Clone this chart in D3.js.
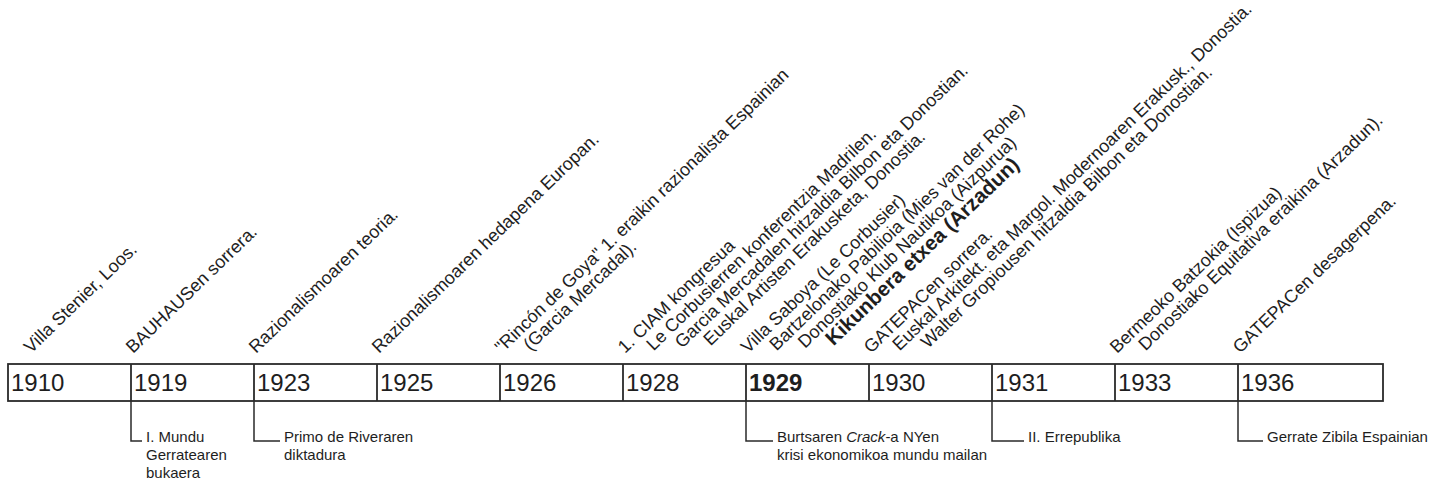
<!DOCTYPE html>
<html>
<head>
<meta charset="utf-8">
<script src="https://cdn.jsdelivr.net/npm/d3@7"></script>
<style>
  body { margin: 0; background: #fff; }
  text { font-family: "Liberation Sans", Arial, sans-serif; fill: #1e1e1e; }
</style>
</head>
<body>
<script>
var width = 1442,
  height = 481;

// Data
var years = ["1910", "1919", "1923", "1925", "1926", "1928", "1929", "1930", "1931", "1933", "1936"];
var boldYear = "1929";

// events above the timeline, one entry per line of text
var eventYears = ["1910", "1919", "1923", "1925",
  "1926", "1926",
  "1928", "1928", "1928", "1928",
  "1929", "1929", "1929", "1929",
  "1930", "1930", "1930",
  "1933", "1933",
  "1936"];
var eventTexts = ["Villa Stenier, Loos.", "BAUHAUSen sorrera.", "Razionalismoaren teoria.", "Razionalismoaren hedapena Europan.",
  "\"Rincón de Goya\" 1. eraikin razionalista Espainian", "(Garcia Mercadal).",
  "1. CIAM kongresua", "Le Corbusierren konferentzia Madrilen.", "Garcia Mercadalen hitzaldia Bilbon eta Donostian.", "Euskal Artisten Erakusketa, Donostia.",
  "Villa Saboya (Le Corbusier)", "Bartzelonako Pabilioia (Mies van der Rohe)", "Donostiako Klub Nautikoa (Aizpurua)", "Kikunbera etxea (Arzadun)",
  "GATEPACen sorrera.", "Euskal Arkitekt. eta Margol. Modernoaren Erakusk., Donostia.", "Walter Gropiousen hitzaldia Bilbon eta Donostian.",
  "Bermeoko Batzokia (Ispizua)", "Donostiako Equitativa eraikina (Arzadun).",
  "GATEPACen desagerpena."];
var boldEvent = "Kikunbera etxea (Arzadun)";

// notes below the timeline (*word* = italic)
var noteYears = ["1919", "1923", "1929", "1931", "1936"];
var noteTexts = [
  ["I. Mundu", "Gerratearen", "bukaera"],
  ["Primo de Riveraren", "diktadura"],
  ["Burtsaren *Crack*-a NYen", "krisi ekonomikoa mundu mailan"],
  ["II. Errepublika"],
  ["Gerrate Zibila Espainian"]];

// Layout
var boxTop = 364, boxBottom = 401, boxLeft = 8, boxRight = 1383;
var cellW = 123;
var noteIndent = [15, 30, 31, 36, 29];
var labelBase = 354;
var angle = -44;

var svg = d3.select("body").append("svg")
  .attr("width", width)
  .attr("height", height);

var x = d3.scaleBand()
  .domain(years)
  .range([boxLeft, boxLeft + cellW * years.length])
  .paddingInner(0)
  .paddingOuter(0);

// Timeline box
svg.append("rect")
  .attr("x", boxLeft)
  .attr("y", boxTop)
  .attr("width", boxRight - boxLeft)
  .attr("height", boxBottom - boxTop)
  .attr("fill", "none")
  .attr("stroke", "#2a2a2a")
  .attr("stroke-width", 1.8);

svg.append("g")
  .selectAll("line")
  .data(years.slice(1))
  .enter()
  .append("line")
  .attr("x1", function (d) { return x(d); })
  .attr("x2", function (d) { return x(d); })
  .attr("y1", boxTop)
  .attr("y2", boxBottom)
  .attr("stroke", "#2a2a2a")
  .attr("stroke-width", 1.8);

svg.append("g")
  .selectAll("text")
  .data(years)
  .enter()
  .append("text")
  .attr("x", function (d) { return x(d) + 3; })
  .attr("y", 391)
  .style("font-size", "24px")
  .style("font-weight", function (d) { return d == boldYear ? "bold" : "normal"; })
  .text(function (d) { return d; });

// Event labels, rotated
var lineIdx = {};
var events = eventTexts.map(function (t, i) {
  var y = eventYears[i];
  lineIdx[y] = (lineIdx[y] === undefined) ? 0 : lineIdx[y] + 1;
  return { year: y, text: t, n: lineIdx[y] };
});

svg.append("g")
  .selectAll("text")
  .data(events)
  .enter()
  .append("text")
  .attr("transform", function (d) {
    var px = x(d.year) + 2 + d.n * 28.5 + (d.year == "1910" ? 21 : 0);
    var py = labelBase - d.n * 2.5;
    return "translate(" + px + "," + py + ") rotate(" + angle + ")";
  })
  .style("font-size", function (d) { return d.text == boldEvent ? "20.5px" : "18px"; })
  .style("font-weight", function (d) { return d.text == boldEvent ? "bold" : "normal"; })
  .text(function (d) { return d.text; });

// Notes below
var notes = noteYears.map(function (y, i) {
  return { year: y, lines: noteTexts[i], indent: noteIndent[i] };
});

var ng = svg.append("g")
  .selectAll("g")
  .data(notes)
  .enter()
  .append("g");

ng.append("path")
  .attr("d", function (d) {
    var x0 = x(d.year);
    return "M" + x0 + "," + boxBottom + "V441H" + (x0 + d.indent - 4);
  })
  .attr("fill", "none")
  .attr("stroke", "#2a2a2a")
  .attr("stroke-width", 1.5);

ng.each(function (d) {
  var g = d3.select(this);
  d.lines.forEach(function (line, j) {
    var t = g.append("text")
      .attr("x", x(d.year) + d.indent)
      .attr("y", 442 + j * 18)
      .style("font-size", "15px");
    line.split("*").forEach(function (part, k) {
      if (part === "") return;
      t.append("tspan")
        .style("font-style", k % 2 == 1 ? "italic" : "normal")
        .text(part);
    });
  });
});
</script>
</body>
</html>
